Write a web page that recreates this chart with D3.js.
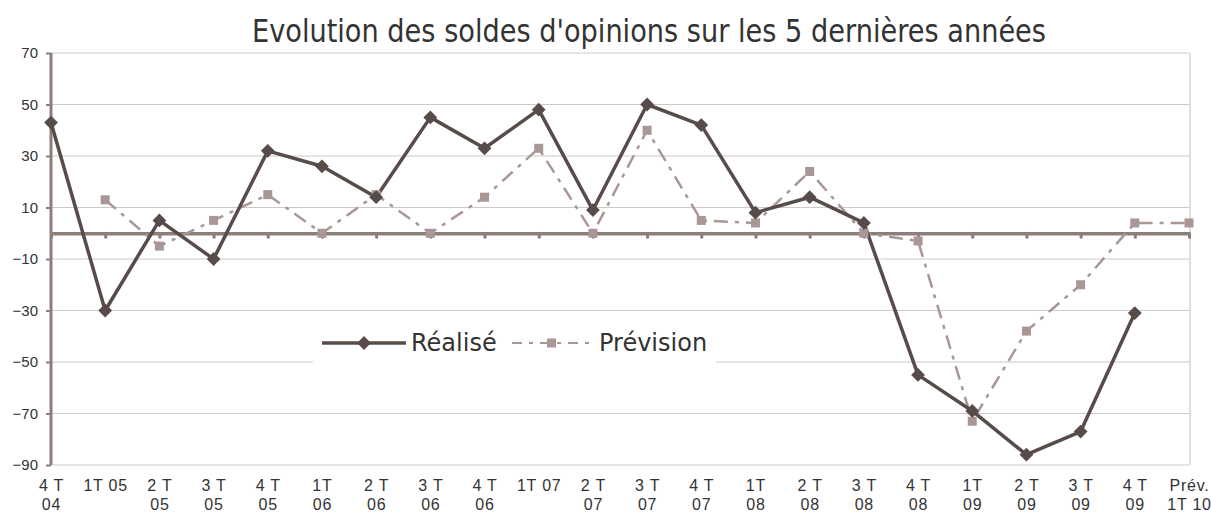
<!DOCTYPE html>
<html>
<head>
<meta charset="utf-8">
<script src="https://cdn.jsdelivr.net/npm/d3@7"></script>
<style>
    body { margin: 0; background: #fff; }
    .axis text { font-family: "Liberation Sans", Arial, sans-serif; font-size: 15px; fill: #333; }
    .x-axis text { font-size: 16px; letter-spacing: 0.8px; }
</style>
</head>
<body>
<div id="chart"></div>
<script>
// quarters (line break marked with |)
const categories = ["4 T|04", "1T 05", "2 T|05", "3 T|05", "4 T|05", "1T|06", "2 T|06", "3 T|06", "4 T|06",
    "1T 07", "2 T|07", "3 T|07", "4 T|07", "1T|08", "2 T|08", "3 T|08", "4 T|08", "1T|09", "2 T|09", "3 T|09",
    "4 T|09", "Prév.|1T 10"];

const realise = [43, -30, 5, -10, 32, 26, 14, 45, 33, 48, 9, 50, 42, 8, 14, 4, -55, -69, -86, -77, -31, null];
const prevision = [null, 13, -5, 5, 15, 0, 15, 0, 14, 33, 0, 40, 5, 4, 24, 0, -3, -73, -38, -20, 4, 4];

const yTicks = [70, 50, 30, 10, -10, -30, -50, -70, -90];

const seriesNames = ["Réalisé", "Prévision"];

const width = 1211, height = 515;
const margin = {top: 53, right: 22, bottom: 50, left: 51};
const innerW = width - margin.left - margin.right;
const innerH = height - margin.top - margin.bottom;

const darkCol = "#574c49";
const lightCol = "#a89795";
const axisCol = "#8c7e7a";
const gridCol = "#cfc8c8";

const svg = d3.select("#chart").append("svg")
    .attr("width", width)
    .attr("height", height);

// title
svg.append("text")
    .text("Evolution des soldes d'opinions sur les 5 dernières années")
    .attr("x", 252)
    .attr("y", 42)
    .attr("textLength", 794)
    .attr("lengthAdjust", "spacingAndGlyphs")
    .attr("font-family", "DejaVu Sans, Verdana, sans-serif")
    .attr("font-size", 32)
    .attr("fill", "#333");

const g = svg.append("g")
    .attr("transform", `translate(${margin.left}, ${margin.top})`);

// scales
const x = d3.scalePoint()
    .domain(d3.range(categories.length))
    .range([0, innerW]);

const y = d3.scaleLinear()
    .domain([-90, 70])
    .range([innerH, 0]);

// gridlines
g.append("g")
    .selectAll("line")
    .data(yTicks)
    .enter()
    .append("line")
    .attr("x1", 0)
    .attr("x2", innerW)
    .attr("y1", d => y(d))
    .attr("y2", d => y(d))
    .attr("stroke", gridCol)
    .attr("stroke-width", 1);

// right border of plot area
g.append("line")
    .attr("x1", innerW + 1)
    .attr("x2", innerW + 1)
    .attr("y1", 0)
    .attr("y2", innerH)
    .attr("stroke", "#d9d3d3")
    .attr("stroke-width", 1.5);

// y axis
const yAxis = d3.axisLeft(y)
    .tickValues(yTicks)
    .tickSize(5)
    .tickPadding(8)
    .tickFormat(d3.format("d"));

g.append("g")
    .attr("class", "y-axis axis")
    .call(yAxis)
    .call(s => s.select(".domain").remove())
    .call(s => s.selectAll(".tick line").attr("stroke", axisCol).attr("stroke-width", 2));

g.append("line")
    .attr("x1", 0).attr("x2", 0)
    .attr("y1", 0).attr("y2", innerH)
    .attr("stroke", axisCol)
    .attr("stroke-width", 3);

// zero line with small ticks
const xTickAxis = d3.axisBottom(x)
    .tickSize(4)
    .tickSizeOuter(0)
    .tickFormat("");

g.append("g")
    .attr("class", "x-ticks axis")
    .attr("transform", `translate(0, ${y(0)})`)
    .call(xTickAxis)
    .call(s => s.select(".domain").attr("stroke", axisCol).attr("stroke-width", 3.5))
    .call(s => s.selectAll(".tick line").attr("stroke", axisCol).attr("stroke-width", 3).attr("stroke-linecap", "round"));

// category labels along the bottom
const xAxis = d3.axisBottom(x)
    .tickSize(0)
    .tickPadding(0)
    .tickFormat("");

const xg = g.append("g")
    .attr("class", "x-axis axis")
    .attr("transform", `translate(0, ${innerH})`)
    .call(xAxis)
    .call(s => s.select(".domain").remove());

xg.selectAll(".tick").append("text")
    .attr("text-anchor", "middle")
    .each(function (d) {
        const lines = categories[d].split("|");
        d3.select(this).selectAll("tspan")
            .data(lines)
            .enter()
            .append("tspan")
            .attr("x", 0)
            .attr("y", (l, i) => 26 + i * 19)
            .text(l => l);
    });

// lines
const line = d3.line()
    .defined(d => d !== null)
    .x((d, i) => x(i))
    .y(d => y(d));

g.append("path")
    .datum(prevision)
    .attr("fill", "none")
    .attr("stroke", lightCol)
    .attr("stroke-width", 2.5)
    .attr("stroke-dasharray", "14,7,4,7")
    .attr("d", line);

g.append("path")
    .datum(realise)
    .attr("fill", "none")
    .attr("stroke", darkCol)
    .attr("stroke-width", 3.5)
    .attr("stroke-linejoin", "round")
    .attr("d", line);

// markers
const prevPts = prevision.map((v, i) => ({i: i, v: v})).filter(d => d.v !== null);
const realPts = realise.map((v, i) => ({i: i, v: v})).filter(d => d.v !== null);

g.selectAll(".prev-marker")
    .data(prevPts)
    .enter()
    .append("rect")
    .attr("class", "prev-marker")
    .attr("x", d => x(d.i) - 4.5)
    .attr("y", d => y(d.v) - 4.5)
    .attr("width", 9)
    .attr("height", 9)
    .attr("fill", lightCol);

const diamond = d3.symbol().type(d3.symbolSquare).size(95);

g.selectAll(".real-marker")
    .data(realPts)
    .enter()
    .append("path")
    .attr("class", "real-marker")
    .attr("d", diamond)
    .attr("transform", d => `translate(${x(d.i)}, ${y(d.v)}) rotate(45)`)
    .attr("fill", darkCol);

// legend
const legend = svg.append("g")
    .attr("transform", "translate(313, 322)");

legend.append("rect")
    .attr("width", 403)
    .attr("height", 44)
    .attr("fill", "#fff");

legend.append("line")
    .attr("x1", 9).attr("x2", 93)
    .attr("y1", 21).attr("y2", 21)
    .attr("stroke", darkCol)
    .attr("stroke-width", 3.5);

legend.append("path")
    .attr("d", diamond)
    .attr("transform", "translate(51, 21) rotate(45)")
    .attr("fill", darkCol);

legend.append("line")
    .attr("x1", 199).attr("x2", 279)
    .attr("y1", 21).attr("y2", 21)
    .attr("stroke", lightCol)
    .attr("stroke-width", 2)
    .attr("stroke-dasharray", "10,7,4,7");

legend.append("rect")
    .attr("x", 234).attr("y", 16.5)
    .attr("width", 9).attr("height", 9)
    .attr("fill", lightCol);

legend.selectAll(".legend-label")
    .data(seriesNames)
    .enter()
    .append("text")
    .attr("class", "legend-label")
    .attr("x", (d, i) => i === 0 ? 98 : 286)
    .attr("y", 29)
    .attr("font-family", "DejaVu Sans, Verdana, sans-serif")
    .attr("font-size", 24)
    .attr("fill", "#333")
    .text(d => d);
</script>
</body>
</html>
